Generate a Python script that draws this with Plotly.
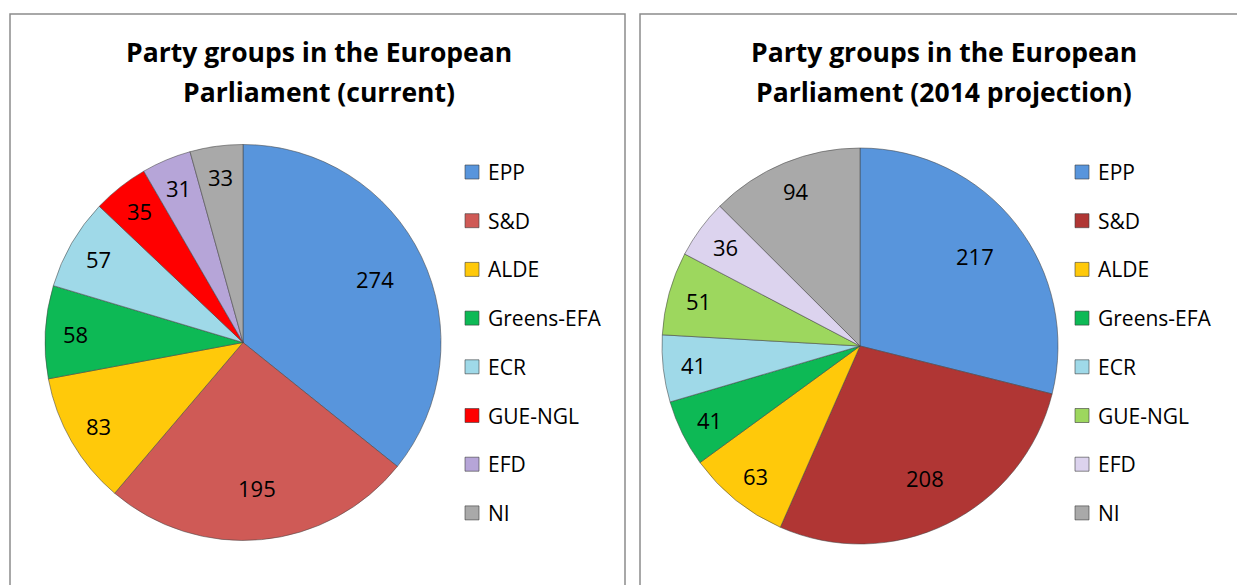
import math
import plotly.graph_objects as go

W, H = 1237, 585

groups = ["EPP", "S&D", "ALDE", "Greens-EFA", "ECR", "GUE-NGL", "EFD", "NI"]
seats_current = [274, 195, 83, 58, 57, 35, 31, 33]
seats_2014 = [217, 208, 63, 41, 41, 51, 36, 94]

colors_current = ["#5895DC", "#CF5A56", "#FFC90A", "#0DB955", "#9FD9E8", "#FF0000", "#B6A5D8", "#A9A9A9"]
colors_2014 = ["#5895DC", "#B03634", "#FFC90A", "#0DB955", "#9FD9E8", "#9DD75E", "#DCD3EE", "#A9A9A9"]

title_current = ["Party groups in the European", "Parliament (current)"]
title_2014 = ["Party groups in the European", "Parliament (2014 projection)"]

FONT = "Open Sans"


def px(x):
    return x / W


def py(y):
    return 1 - y / H


fig = go.Figure()

panels = [
    dict(values=seats_current, colors=colors_current, title=title_current,
         cx=243, cy=342.5, r=198, tx=319, lx=465),
    dict(values=seats_2014, colors=colors_2014, title=title_2014,
         cx=860, cy=346, r=198, tx=944, lx=1075),
]

shapes = []
annotations = []

for p in panels:
    fig.add_trace(go.Pie(
        labels=groups, values=p["values"], sort=False, direction="clockwise",
        rotation=0, textinfo="none",
        marker=dict(colors=p["colors"], line=dict(color="rgba(70,70,70,0.55)", width=1)),
        showlegend=False, hoverinfo="label+value",
        domain=dict(x=[px(p["cx"] - p["r"]), px(p["cx"] + p["r"])],
                    y=[py(p["cy"] + p["r"]), py(p["cy"] - p["r"])]),
    ))
    # data labels placed along each slice's bisector (Excel "best fit" style)
    total = sum(p["values"])
    cum = 0
    for v in p["values"]:
        mid = (cum + v / 2) / total * 2 * math.pi
        cum += v
        frac = 0.74 if v / total > 0.25 else 0.845
        lx = p["cx"] + frac * p["r"] * math.sin(mid)
        ly = p["cy"] - frac * p["r"] * math.cos(mid)
        annotations.append(dict(xref="paper", yref="paper", x=px(lx), y=py(ly),
                                text=str(v), showarrow=False, xanchor="center", yanchor="middle",
                                font=dict(family=FONT, size=22, color="black")))

# panel frames
shapes.append(dict(type="rect", xref="paper", yref="paper", x0=px(10), x1=px(625),
                   y0=py(600), y1=py(14), line=dict(color="#8C8C8C", width=1.5)))
shapes.append(dict(type="rect", xref="paper", yref="paper", x0=px(640), x1=px(1260),
                   y0=py(600), y1=py(14), line=dict(color="#8C8C8C", width=1.5)))

row_y = [172 + i * 48.7 for i in range(len(groups))]

for p in panels:
    for k, line in enumerate(p["title"]):
        annotations.append(dict(xref="paper", yref="paper", x=px(p["tx"]), y=py(52 + 40 * k),
                                text="<b>" + line + "</b>", showarrow=False,
                                xanchor="center", yanchor="middle",
                                font=dict(family=FONT, size=26.5, color="black")))
    for i, g in enumerate(groups):
        y = row_y[i]
        shapes.append(dict(type="rect", xref="paper", yref="paper",
                           x0=px(p["lx"]), x1=px(p["lx"] + 14),
                           y0=py(y + 7), y1=py(y - 7),
                           fillcolor=p["colors"][i],
                           line=dict(color="rgba(60,60,60,0.6)", width=1)))
        annotations.append(dict(xref="paper", yref="paper", x=px(p["lx"] + 21), y=py(y),
                                text=g, showarrow=False, xanchor="left", yanchor="middle",
                                font=dict(family=FONT, size=21, color="black")))

fig.update_layout(
    width=W, height=H, margin=dict(l=0, r=0, t=0, b=0),
    paper_bgcolor="white", plot_bgcolor="white",
    shapes=shapes, annotations=annotations,
)

fig.write_html("out.html", config={"displayModeBar": False},
               post_script="document.body.style.margin='0';document.body.style.overflow='hidden';")
